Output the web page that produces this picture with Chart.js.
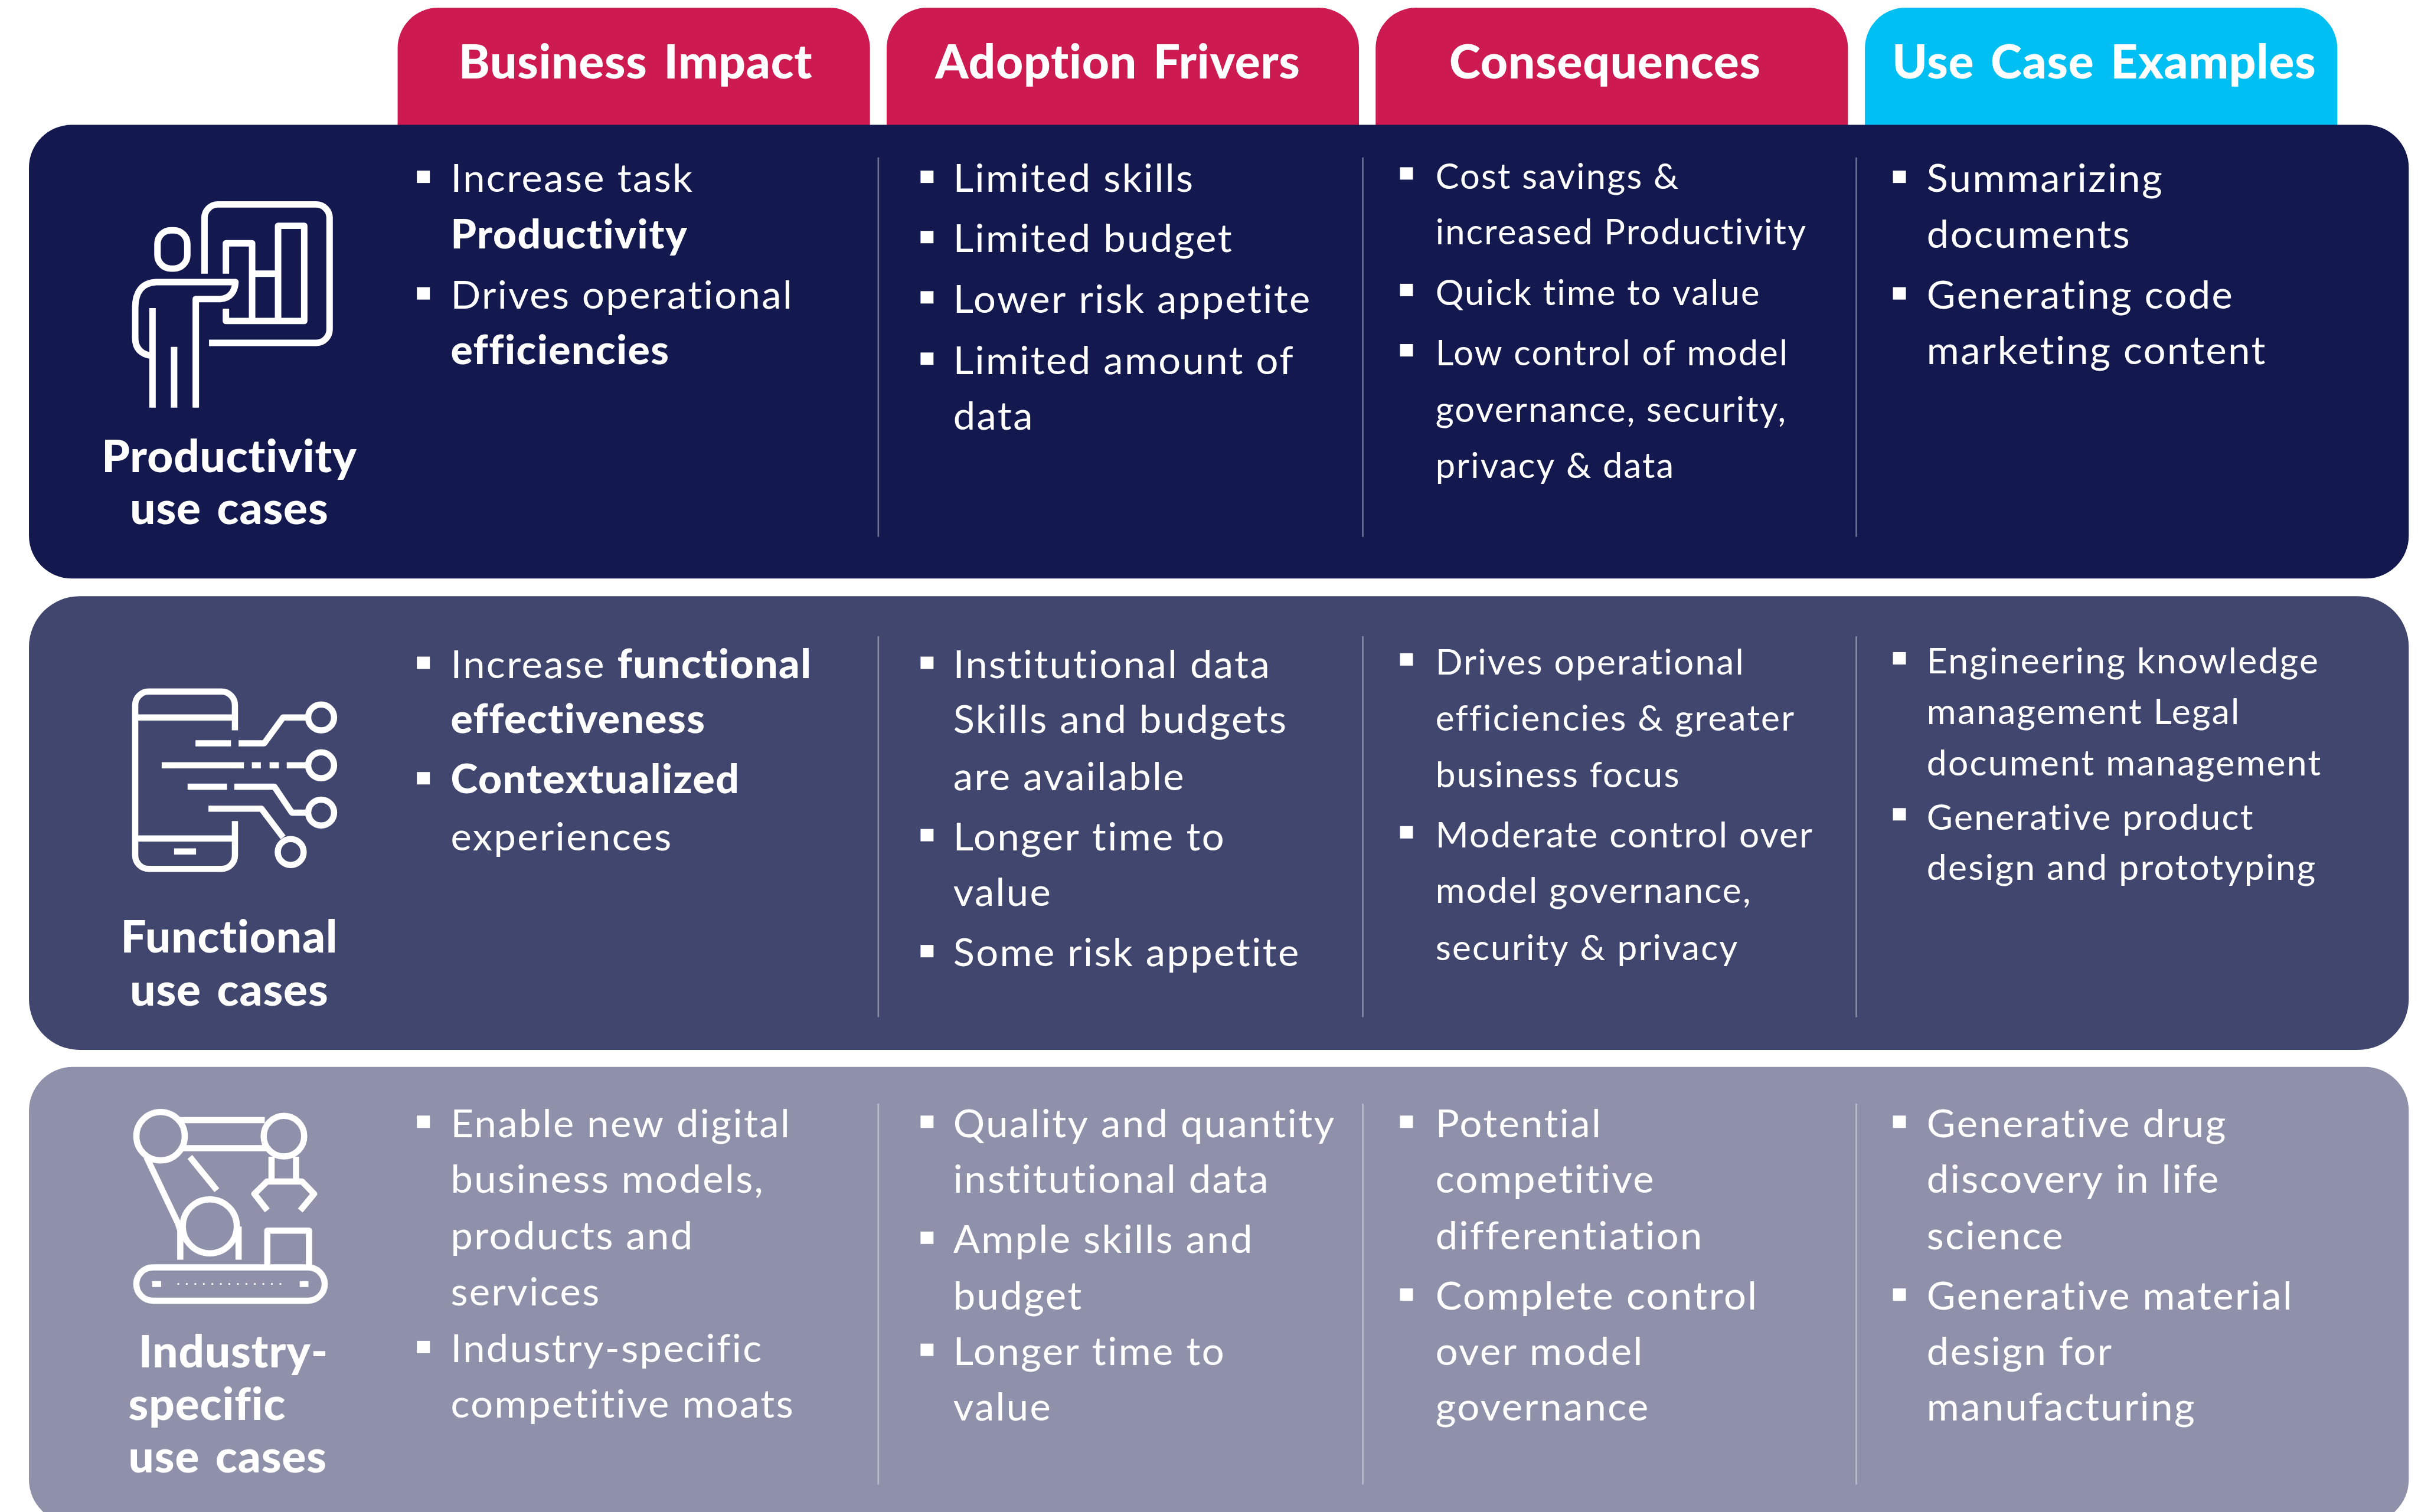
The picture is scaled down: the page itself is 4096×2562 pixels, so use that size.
<!DOCTYPE html>
<html>
<head>
<meta charset="utf-8">
<title>Use case matrix</title>
<script src="https://cdn.jsdelivr.net/npm/chart.js@4"></script>
<style>
  html, body { margin: 0; padding: 0; background: #fff; }
  canvas { display: block; }
</style>
</head>
<body>
<canvas id="chart" width="4096" height="2562"></canvas>
<script>
'use strict';

/* ── Content ────────────────────────────────────────────────────────────── */
const columns = ['Business Impact', 'Adoption Frivers', 'Consequences', 'Use Case Examples'];
const rowTitles = [
  ['Productivity', 'use cases'],
  ['Functional', 'use cases'],
  ['Industry-', 'specific', 'use cases']
];
// row -> column -> bullet -> wrapped lines, **x** is bold
const cells = [
  [
    [['Increase task', '**Productivity**'], ['Drives operational', '**efficiencies**']],
    [['Limited skills'], ['Limited budget'], ['Lower risk appetite'], ['Limited amount of', 'data']],
    [['Cost savings &', 'increased Productivity'], ['Quick time to value'], ['Low control of model', 'governance, security,', 'privacy & data']],
    [['Summarizing', 'documents'], ['Generating code', 'marketing content']]
  ],
  [
    [['Increase **functional**', '**effectiveness**'], ['**Contextualized**', 'experiences']],
    [['Institutional data', 'Skills and budgets', 'are available'], ['Longer time to', 'value'], ['Some risk appetite']],
    [['Drives operational', 'efficiencies & greater', 'business focus'], ['Moderate control over', 'model governance,', 'security & privacy']],
    [['Engineering knowledge', 'management Legal', 'document management'], ['Generative product', 'design and prototyping']]
  ],
  [
    [['Enable new digital', 'business models,', 'products and', 'services'], ['Industry-specific', 'competitive moats']],
    [['Quality and quantity', 'institutional data'], ['Ample skills and', 'budget'], ['Longer time to', 'value']],
    [['Potential', 'competitive', 'differentiation'], ['Complete control', 'over model', 'governance']],
    [['Generative drug', 'discovery in life', 'science'], ['Generative material', 'design for', 'manufacturing']]
  ]
];

/* ── Layout, all in reference pixels (4292 x 2685) ──────────────────────── */
const S = 0.954;
const REF_W = 4292, REF_H = 2685;
const tabCentres = [1125, 1993, 2861, 3729.5];
const tabWidth = 838, tabTop = 14, tabBottom = 240;
const panelLeft = 51, panelRight = 4276;
const panelTops = [222, 1059, 1895];
const panelBottoms = [1027, 1864, 2705];
const panelRadius = [76, 90, 78];
const panelColours = ['#13184f', '#41466f', '#8f91ab'];
const tabColours = ['#cd1a50', '#cd1a50', '#cd1a50', '#00bff3'];
const sepX = [1559, 2419, 3295];
const sepTops = [280, 1130, 1960];
const sepBottoms = [953, 1806, 2636];

const headerX = [1128, 1984, 2849, 3735];
const headerBaseline = 139;
const titleX = 407;
const titleBaselines = [[838, 931], [1692, 1786], [2428, 2522, 2615]];
const titleLeftAlign = [null, null, [246, 228, 228]];

const bulletX = [740, 1634, 2485, 3360];
const textX = [800, 1692, 2548, 3420];
const cellFont = [[70, 70, 62.5, 70], [70, 70, 63.2, 63.5], [70, 70, 70, 70]];
const cellBaselines = [
  [[341, 441, 548, 647], [341, 448, 555, 664, 763], [335, 434, 542, 649, 749, 849], [341, 440, 548, 647]],
  [[1204, 1302, 1409, 1510], [1204, 1302, 1403, 1510, 1609, 1716], [1198, 1297, 1398, 1505, 1603, 1705], [1196, 1286, 1377, 1473, 1563]],
  [[2019, 2118, 2219, 2318, 2419, 2517], [2019, 2118, 2225, 2326, 2424, 2523], [2019, 2118, 2219, 2326, 2424, 2523], [2019, 2118, 2219, 2326, 2424, 2523]]
];

/* ── Text plugin ────────────────────────────────────────────────────────── */
const BODY = '"Lato"';
const HEAD = '"Lato"';

function drawRuns(ctx, line, x, y, size) {
  // split on ** and draw each run after the previous one
  let cx = x;
  line.split('**').forEach((run, i) => {
    if (!run) return;
    const bold = i % 2 === 1;
    const px = bold ? size * 1.04 : size;
    ctx.font = (bold ? '900 ' : '400 ') + px + 'px ' + BODY;
    ctx.letterSpacing = (bold ? 0.022 : 0.037) * px + 'px';
    ctx.fillText(run, cx, y);
    cx += ctx.measureText(run).width;
  });
  ctx.letterSpacing = '0px';
}

const tablePlugin = {
  id: 'tableText',
  afterDatasetsDraw(chart) {
    const ctx = chart.ctx;
    const X = v => chart.scales.x.getPixelForValue(v);
    const Y = v => chart.scales.y.getPixelForValue(v);
    ctx.save();
    ctx.fillStyle = '#fff';
    ctx.textBaseline = 'alphabetic';

    // column headers
    ctx.textAlign = 'center';
    ctx.font = '900 ' + 84 * S + 'px ' + HEAD;
    ctx.letterSpacing = 0.01 * 84 * S + 'px';
    ctx.wordSpacing = 0.1 * 84 * S + 'px';
    columns.forEach((c, i) => ctx.fillText(c, X(headerX[i]), Y(headerBaseline)));

    // row titles
    ctx.font = '900 ' + 80 * S + 'px ' + HEAD;
    ctx.letterSpacing = 0.012 * 80 * S + 'px';
    ctx.wordSpacing = 0.1 * 80 * S + 'px';
    rowTitles.forEach((lines, r) => {
      lines.forEach((l, i) => {
        if (titleLeftAlign[r]) {
          ctx.textAlign = 'left';
          ctx.fillText(l, X(titleLeftAlign[r][i]), Y(titleBaselines[r][i]));
          ctx.textAlign = 'center';
        } else {
          ctx.fillText(l, X(titleX), Y(titleBaselines[r][i]));
        }
      });
    });
    ctx.letterSpacing = '0px';
    ctx.wordSpacing = '0px';

    // bullets and wrapped lines
    ctx.textAlign = 'left';
    cells.forEach((row, r) => {
      row.forEach((bullets, c) => {
        let n = 0;
        const size = cellFont[r][c] * S;
        bullets.forEach(lines => {
          const by = cellBaselines[r][c][n];
          ctx.fillRect(X(bulletX[c]), Y(by - 38), 23 * S, 22 * S);
          lines.forEach(l => {
            drawRuns(ctx, l, X(textX[c]), Y(cellBaselines[r][c][n]), size);
            n++;
          });
        });
      });
    });
    ctx.restore();
  }
};

/* ── Icon plugin ────────────────────────────────────────────────────────── */
const iconPlugin = {
  id: 'icons',
  afterDatasetsDraw(chart) {
    const ctx = chart.ctx;
    const X = v => chart.scales.x.getPixelForValue(v);
    const Y = v => chart.scales.y.getPixelForValue(v);
    ctx.save();
    ctx.strokeStyle = '#fff';
    ctx.fillStyle = '#fff';
    ctx.lineWidth = 11.5 * S;
    ctx.lineJoin = 'round';

    const poly = pts => {
      ctx.beginPath();
      pts.forEach((p, i) => i ? ctx.lineTo(X(p[0]), Y(p[1])) : ctx.moveTo(X(p[0]), Y(p[1])));
      ctx.stroke();
    };
    const circle = (x, y, r) => {
      ctx.beginPath();
      ctx.arc(X(x), Y(y), r * S, 0, Math.PI * 2);
      ctx.stroke();
    };
    const rounded = (l, t, r, b, rad) => {
      ctx.beginPath();
      ctx.roundRect(X(l), Y(t), (r - l) * S, (b - t) * S, rad * S);
      ctx.stroke();
    };
    const corner = (pts, rad) => {
      ctx.beginPath();
      ctx.moveTo(X(pts[0][0]), Y(pts[0][1]));
      for (let i = 1; i < pts.length - 1; i++) {
        ctx.arcTo(X(pts[i][0]), Y(pts[i][1]), X(pts[i + 1][0]), Y(pts[i + 1][1]), rad * S);
      }
      const e = pts[pts.length - 1];
      ctx.lineTo(X(e[0]), Y(e[1]));
      ctx.stroke();
    };

    // presenter
    corner([[363, 486], [363, 363], [585, 363], [585, 609], [371, 609]], 24);
    poly([[401, 486], [401, 432], [447.5, 432], [447.5, 570]]);
    poly([[401, 548], [401, 570], [540, 570], [540, 401], [493.6, 401], [493.6, 570]]);
    poly([[447.5, 486], [493.6, 486]]);
    rounded(279.5, 409, 332.5, 477, 24);
    ctx.beginPath();
    ctx.moveTo(X(347.5), Y(724));
    ctx.lineTo(X(347.5), Y(531));
    ctx.lineTo(X(392), Y(531));
    ctx.quadraticCurveTo(X(416), Y(528), X(418), Y(501));
    ctx.lineTo(X(277), Y(501));
    ctx.quadraticCurveTo(X(240), Y(503), X(240), Y(547));
    ctx.lineTo(X(240), Y(600));
    ctx.quadraticCurveTo(X(240), Y(628), X(270), Y(632));
    ctx.stroke();
    poly([[270.7, 547], [270.7, 724]]);
    poly([[309, 616], [309, 724]]);

    // phone
    ctx.lineWidth = 11 * S;
    corner([[417, 1297], [417, 1228], [240, 1228], [240, 1543], [417, 1543], [417, 1458]], 24);
    poly([[240, 1274], [417, 1274]]);
    poly([[240, 1489], [417, 1489]]);
    poly([[309, 1512], [348, 1512]]);
    poly([[347, 1320], [410, 1320]]);
    poly([[423.5, 1320], [469, 1320], [502.5, 1274], [547, 1274]]);
    poly([[287, 1359], [433, 1359]]);
    poly([[447, 1359], [463, 1359]]);
    poly([[478.5, 1359], [495, 1359]]);
    poly([[509, 1359], [547, 1359]]);
    poly([[333, 1397], [403, 1397]]);
    poly([[416, 1397], [487, 1397], [518, 1443], [547, 1443]]);
    poly([[370, 1436], [464, 1436], [502.5, 1487]]);
    circle(570, 1274, 23);
    circle(570, 1359, 23);
    circle(570, 1443, 23);
    circle(516, 1513, 23);

    // robot arm
    circle(285, 2017.6, 43);
    circle(504, 2017.6, 36);
    poly([[319, 1989], [470, 1989]]);
    poly([[322, 2039], [475, 2039]]);
    poly([[260, 2054.5], [316, 2172.6], [320, 2185], [320, 2237]]);
    poly([[337, 2054.5], [385, 2113.6]]);
    circle(372.4, 2177.7, 48);
    poly([[423.5, 2178], [423.5, 2237]]);
    poly([[482, 2054], [482, 2098]]);
    poly([[525.5, 2054], [525.5, 2098]]);
    poly([[474.5, 2149.5], [451.5, 2120], [474, 2098], [536, 2098], [557.5, 2120], [533, 2149.5]]);
    poly([[474.5, 2250], [474.5, 2185.4], [548.5, 2185.4], [548.5, 2250]]);
    rounded(242, 2250.6, 576.5, 2309.7, 29.5);
    ctx.fillRect(X(270), Y(2275), 16 * S, 10.5 * S);
    ctx.fillRect(X(532), Y(2275), 15.5 * S, 10.5 * S);
    for (let i = 0; i < 13; i++) {
      ctx.fillRect(X(315 + i * 15.1), Y(2278.5), 3 * S, 3 * S);
    }
    ctx.restore();
  }
};

/* ── Chart ──────────────────────────────────────────────────────────────── */
new Chart(document.getElementById('chart'), {
  type: 'bar',
  data: {
    datasets: [
      {
        label: 'separators',
        order: 1,
        barThickness: 2,
        backgroundColor: 'rgba(255,255,255,.38)',
        data: sepTops.flatMap((t, r) => sepX.map(x => ({ x, y: [t, sepBottoms[r]] })))
      },
      {
        label: 'rows',
        order: 2,
        barThickness: (panelRight - panelLeft) * S,
        backgroundColor: panelColours,
        borderRadius: ctx => panelRadius[ctx.dataIndex] * S,
        data: panelTops.map((t, r) => ({ x: (panelLeft + panelRight) / 2, y: [t, panelBottoms[r]] }))
      },
      {
        label: 'columns',
        order: 3,
        barThickness: tabWidth * S,
        backgroundColor: tabColours,
        borderRadius: { topLeft: 72 * S, topRight: 72 * S, bottomLeft: 0, bottomRight: 0 },
        data: tabCentres.map(x => ({ x, y: [tabTop, tabBottom] }))
      }
    ]
  },
  options: {
    responsive: false,
    animation: false,
    events: [],
    layout: { padding: 0 },
    datasets: { bar: { grouped: false, borderSkipped: false } },
    plugins: { legend: { display: false }, tooltip: { enabled: false }, title: { display: false } },
    scales: {
      x: { type: 'linear', display: false, offset: false, min: 0, max: REF_W },
      y: { type: 'linear', display: false, reverse: true, min: 0, max: REF_H, beginAtZero: false }
    }
  },
  plugins: [tablePlugin, iconPlugin]
});
</script>
</body>
</html>
